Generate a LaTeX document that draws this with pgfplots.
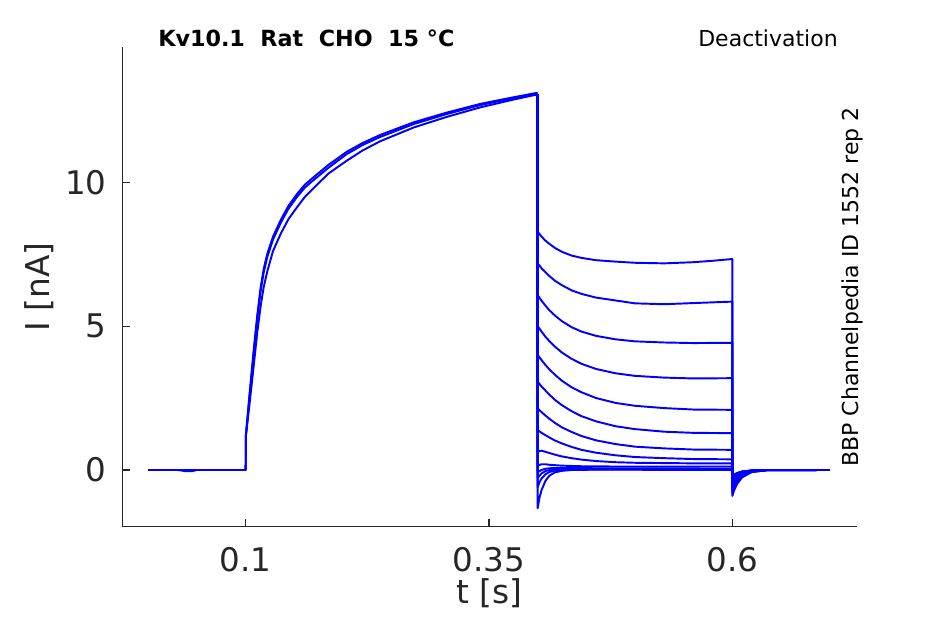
\documentclass[border=0pt]{standalone}
\usepackage{fontspec}
\setmainfont{DejaVu Sans}
\usepackage{pgfplots}
\pgfplotsset{compat=1.18}
\definecolor{axgray}{HTML}{262626}
\definecolor{trace}{RGB}{0,0,255}
\tikzset{tr/.style={draw=trace, solid, line width=1.45pt, line join=round, mark=none}}
\begin{document}
\begin{tikzpicture}
\path[use as bounding box] (0,0) rectangle (708.75pt,468pt);
\begin{axis}[
  at={(91.7pt,73pt)}, anchor=south west,
  scale only axis, width=550.8pt, height=360pt,
  xmin=-0.0268, xmax=0.7278, ymin=-1.97, ymax=14.71,
  axis x line=bottom, axis y line=left,
  axis line style={-, draw=axgray, line width=0.8pt},
  every tick/.style={draw=axgray, line width=0.8pt},
  tick align=inside, major tick length=5.6pt,
  xtick={0.1,0.35,0.6}, xticklabels={0.1,0.35,0.6},
  ytick={0,5,10}, yticklabels={0,5,10},
  /pgf/number format/assume math mode=true,
  ticklabel style={font=\fontsize{24.4}{28}\selectfont, text=axgray},
  xticklabel style={anchor=base, inner sep=0pt, yshift=-33.75pt},
  yticklabel style={anchor=east, inner sep=0pt, xshift=-11.7pt},
  xlabel={t [s]}, ylabel={I [nA]},
  label style={font=\fontsize{24.6}{28}\selectfont, text=axgray, inner sep=0pt},
  xlabel style={at={(axis description cs:0.5,0)}, anchor=base, yshift=-57.5pt},
  ylabel style={at={(axis description cs:-0.1134,0.5)}, anchor=center, rotate=0},
  clip=false,
]
% activation sweeps (three visible variants)
\addplot[tr] coordinates {(0,0) (0.03,0) (0.038,-0.04) (0.045,-0.04) (0.05,0) (0.1,0) (0.1003,1.25) (0.104,2.65) (0.1085,4.26) (0.112,5.4) (0.1154,6.35) (0.1185,6.98) (0.1222,7.51) (0.128,8.1) (0.1359,8.68) (0.144,9.18) (0.153,9.6) (0.161,9.92) (0.170,10.18) (0.185,10.6) (0.204,11.06) (0.22,11.36) (0.238,11.64) (0.2725,12.08) (0.3067,12.42) (0.341,12.72) (0.375,12.95) (0.397,13.09) (0.4,13.1)};
\addplot[tr] coordinates {(0,0) (0.1,0) (0.1003,1.22) (0.104,2.55) (0.1085,4.15) (0.112,5.3) (0.1154,6.22) (0.1185,6.86) (0.1222,7.4) (0.128,8.0) (0.1359,8.58) (0.144,9.08) (0.153,9.5) (0.161,9.82) (0.170,10.08) (0.185,10.5) (0.204,10.98) (0.22,11.29) (0.238,11.57) (0.2725,12.02) (0.3067,12.37) (0.341,12.68) (0.375,12.92) (0.397,13.07) (0.4,13.08)};
\addplot[tr] coordinates {(0,0) (0.1,0) (0.1003,1.2) (0.104,2.3) (0.1085,3.7) (0.112,4.8) (0.1154,5.7) (0.1185,6.35) (0.1222,6.9) (0.128,7.6) (0.1359,8.2) (0.144,8.72) (0.153,9.14) (0.161,9.5) (0.170,9.8) (0.185,10.3) (0.204,10.75) (0.22,11.1) (0.238,11.42) (0.2725,11.9) (0.3067,12.27) (0.341,12.6) (0.375,12.87) (0.397,13.03) (0.4,13.05)};
% tail sweeps
\addplot[tr] coordinates {(0.4,13.05) (0.4,8.28) (0.404,8.11) (0.408,7.97) (0.412,7.86) (0.418,7.71) (0.425,7.58) (0.435,7.45) (0.445,7.37) (0.46,7.29) (0.48,7.24) (0.5,7.2) (0.53,7.18) (0.56,7.22) (0.58,7.27) (0.6,7.33) (0.6,-0.9) (0.602,-0.70) (0.605,-0.48) (0.61,-0.26) (0.62,-0.07) (0.635,-0.01) (0.7,0)};
\addplot[tr] coordinates {(0.4,13.05) (0.4,7.18) (0.404,7.01) (0.408,6.87) (0.412,6.74) (0.418,6.57) (0.425,6.42) (0.435,6.24) (0.445,6.12) (0.46,5.99) (0.48,5.89) (0.5,5.79) (0.53,5.76) (0.56,5.80) (0.6,5.85) (0.6,-0.8) (0.602,-0.62) (0.605,-0.43) (0.61,-0.23) (0.62,-0.07) (0.635,-0.01) (0.7,0)};
\addplot[tr] coordinates {(0.4,13.05) (0.4,6.08) (0.404,5.88) (0.408,5.71) (0.412,5.55) (0.418,5.36) (0.425,5.17) (0.435,4.96) (0.445,4.81) (0.46,4.66) (0.48,4.54) (0.5,4.47) (0.53,4.43) (0.56,4.41) (0.6,4.42) (0.6,-0.7) (0.602,-0.55) (0.605,-0.37) (0.61,-0.2) (0.62,-0.06) (0.635,-0.01) (0.7,0)};
\addplot[tr] coordinates {(0.4,13.05) (0.4,5.0) (0.404,4.81) (0.408,4.63) (0.412,4.48) (0.418,4.28) (0.425,4.08) (0.435,3.86) (0.445,3.69) (0.46,3.51) (0.48,3.36) (0.5,3.27) (0.53,3.21) (0.56,3.18) (0.6,3.19) (0.6,-0.6) (0.602,-0.47) (0.605,-0.32) (0.61,-0.17) (0.62,-0.05) (0.635,-0.01) (0.7,0)};
\addplot[tr] coordinates {(0.4,13.05) (0.4,4.0) (0.404,3.82) (0.408,3.65) (0.412,3.50) (0.418,3.30) (0.425,3.10) (0.435,2.87) (0.445,2.70) (0.46,2.50) (0.48,2.33) (0.5,2.23) (0.53,2.15) (0.56,2.10) (0.6,2.09) (0.6,-0.5) (0.602,-0.39) (0.605,-0.27) (0.61,-0.14) (0.62,-0.04) (0.635,-0.01) (0.7,0)};
\addplot[tr] coordinates {(0.4,13.05) (0.4,3.07) (0.404,2.90) (0.408,2.76) (0.412,2.62) (0.418,2.43) (0.425,2.25) (0.435,2.04) (0.445,1.87) (0.46,1.69) (0.48,1.52) (0.5,1.42) (0.53,1.33) (0.56,1.29) (0.6,1.28) (0.6,-0.42) (0.602,-0.33) (0.605,-0.22) (0.61,-0.12) (0.62,-0.03) (0.635,0) (0.7,0)};
\addplot[tr] coordinates {(0.4,13.05) (0.4,2.14) (0.404,2.01) (0.408,1.89) (0.412,1.78) (0.418,1.63) (0.425,1.48) (0.435,1.32) (0.445,1.18) (0.46,1.03) (0.48,0.90) (0.5,0.81) (0.53,0.75) (0.56,0.71) (0.6,0.70) (0.6,-0.36) (0.602,-0.28) (0.605,-0.19) (0.61,-0.10) (0.62,-0.03) (0.635,0) (0.7,0)};
\addplot[tr] coordinates {(0.4,13.05) (0.4,1.39) (0.404,1.29) (0.408,1.21) (0.412,1.13) (0.418,1.02) (0.425,0.92) (0.435,0.80) (0.445,0.70) (0.46,0.60) (0.48,0.51) (0.5,0.45) (0.53,0.41) (0.56,0.38) (0.6,0.37) (0.6,-0.3) (0.602,-0.23) (0.605,-0.16) (0.61,-0.09) (0.62,-0.02) (0.635,0) (0.7,0)};
\addplot[tr] coordinates {(0.4,13.05) (0.4,0.64) (0.404,0.67) (0.408,0.63) (0.412,0.59) (0.418,0.53) (0.425,0.47) (0.435,0.41) (0.445,0.36) (0.46,0.31) (0.48,0.27) (0.5,0.25) (0.53,0.24) (0.56,0.23) (0.6,0.23) (0.6,-0.26) (0.602,-0.2) (0.605,-0.14) (0.61,-0.07) (0.62,-0.02) (0.635,0) (0.7,0)};
\addplot[tr] coordinates {(0.4,13.05) (0.4,0.15) (0.404,0.2) (0.408,0.2) (0.412,0.18) (0.425,0.15) (0.445,0.13) (0.48,0.12) (0.53,0.12) (0.6,0.12) (0.6,-0.22) (0.602,-0.17) (0.605,-0.12) (0.61,-0.06) (0.62,-0.02) (0.635,0) (0.7,0)};
\addplot[tr] coordinates {(0.4,13.05) (0.4,-0.08) (0.404,0.0) (0.408,0.04) (0.412,0.06) (0.425,0.07) (0.46,0.06) (0.6,0.05) (0.6,-0.22) (0.602,-0.17) (0.605,-0.12) (0.61,-0.06) (0.62,-0.02) (0.635,0) (0.7,0)};
\addplot[tr] coordinates {(0.4,13.05) (0.4,-0.28) (0.404,-0.12) (0.408,-0.04) (0.412,0.0) (0.418,0.02) (0.425,0.03) (0.445,0.04) (0.6,0.03) (0.6,-0.2) (0.602,-0.16) (0.605,-0.11) (0.61,-0.06) (0.62,-0.02) (0.635,0) (0.7,0)};
\addplot[tr] coordinates {(0.4,13.05) (0.4,-0.6) (0.402,-0.42) (0.404,-0.3) (0.408,-0.15) (0.412,-0.07) (0.418,-0.02) (0.425,0.0) (0.445,0.02) (0.6,0.02) (0.6,-0.2) (0.602,-0.16) (0.605,-0.11) (0.61,-0.06) (0.62,-0.02) (0.635,0) (0.7,0)};
\addplot[tr] coordinates {(0.4,13.05) (0.4,-1.33) (0.402,-0.95) (0.404,-0.7) (0.408,-0.38) (0.412,-0.2) (0.418,-0.08) (0.425,-0.03) (0.435,0.0) (0.46,0.01) (0.6,0.0) (0.6,-0.2) (0.602,-0.16) (0.605,-0.11) (0.61,-0.06) (0.62,-0.02) (0.635,0) (0.7,0)};
% annotations
\node[anchor=base west, font=\fontsize{16.7}{19}\selectfont\bfseries, inner sep=0pt] at ([xshift=26.8pt]rel axis cs:0,1) {Kv10.1\ \ Rat\ \ CHO\ \ 15 °C};
\node[anchor=base east, font=\fontsize{16.5}{19}\selectfont, inner sep=0pt] at ([xshift=-14pt]rel axis cs:1,1) {Deactivation};
\node[anchor=base west, rotate=90, font=\fontsize{16.5}{19}\selectfont, inner sep=0pt] at ([xshift=1pt,yshift=44.8pt]rel axis cs:1,0) {BBP Channelpedia ID 1552 rep 2};
\end{axis}
\end{tikzpicture}
\end{document}
